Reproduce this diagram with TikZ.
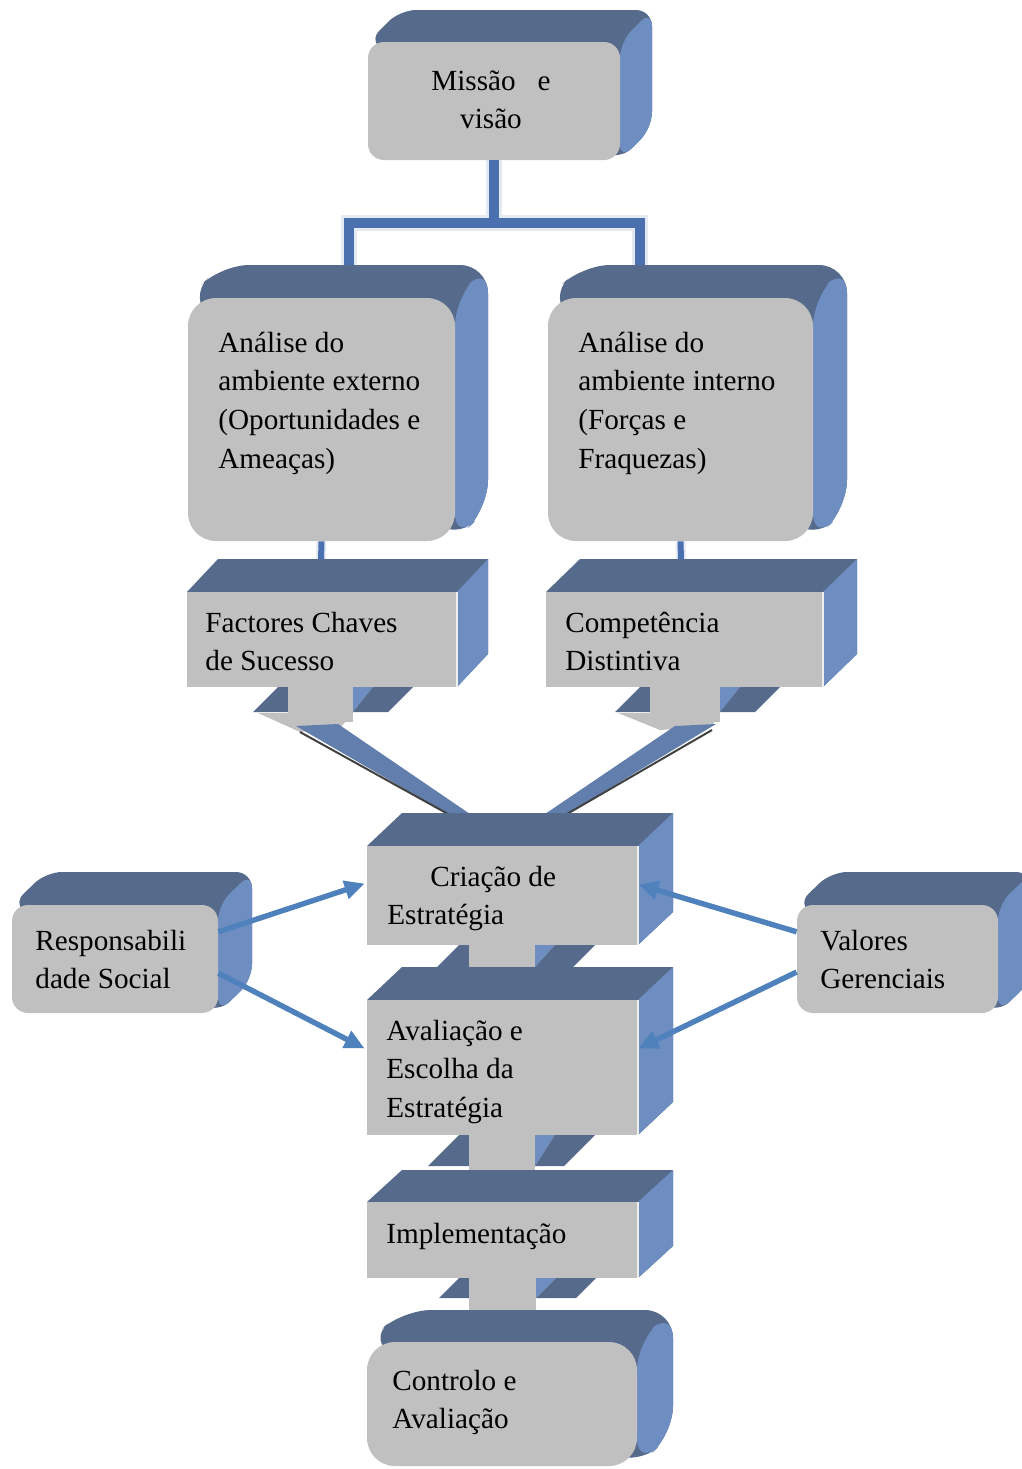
\documentclass[tikz,border=0pt]{standalone}
\usepackage{fontspec}
\setmainfont{Liberation Serif}
\usetikzlibrary{fit,calc,arrows.meta}
\definecolor{topc}{RGB}{86,106,140}
\definecolor{sidec}{RGB}{110,142,194}
\definecolor{bandc}{RGB}{98,126,172}
\definecolor{facec}{RGB}{192,192,192}
\definecolor{arrc}{RGB}{79,129,189}
\definecolor{connc}{RGB}{74,112,176}
\definecolor{connhl}{RGB}{228,234,243}
% #1 x1, #2 y1, #3 x2, #4 y2 (front face), #5 dx, #6 dy (depth), #7 radius, #8 name
\newcommand\slab[8]{%
  \fill[topc, rounded corners=#7] (#1,#2) -- ({#1+#5},{#2-#6}) -- ({#3+#5},{#2-#6}) -- ({#3+#5},{#4-#6}) -- (#3,#4) -- cycle;
  \fill[sidec, rounded corners=#7] (#3,#2) -- ({#3+#5},{#2-#6}) -- ({#3+#5},{#4-#6}) -- (#3,#4) -- cycle;
  \node[face, rounded corners=#7, fit={(#1,#2) (#3,#4)}] (#8) {};
}
% #1 stem left x, #2 stem right x, #3 top y, #4 bottom y, #5 wing height
\newcommand\stemdown[5]{%
  \fill[topc] (#1,#3) -- ({#1-10},#3) -- ({#1-10-#5},{#3+#5}) -- (#1,{#3+#5}) -- cycle;
  \fill[sidec] (#2,#3) -- ({#2+20},#3) -- (#2,{#3+#5}) -- cycle;
  \fill[topc] ({#2+20},#3) -- ({#2+60},#3) -- ({#2+60-#5},{#3+#5}) -- (#2,{#3+#5}) -- cycle;
  \fill[facec] (#1,#3) rectangle (#2,#4);
}
\begin{document}
\begin{tikzpicture}[x=0.5pt,y=-0.5pt,
  face/.style={fill=facec, draw=none, inner sep=0pt},
  lbl/.style={anchor=base west, inner sep=0pt, font=\fontsize{14.6}{19.4}\selectfont},
  conn/.style={draw=connc, line width=5pt},
  connout/.style={draw=connhl, line width=8pt},
  arr/.style={draw=arrc, line width=2.7pt, -{Triangle[length=10pt,width=9pt]}},
  hl/.style={draw=white!75!facec, line width=1pt}]
\useasboundingbox (0,0) rectangle (1022,1469);
\clip (0,0) rectangle (1022,1469);

% top level
\slab{368}{42}{620}{160}{32}{32}{8pt}{miss}
\slab{188}{298}{455}{541}{33}{33}{14pt}{ext}
\slab{548}{298}{813}{541}{34}{33}{14pt}{int}

\coordinate (extin) at (349,265);
\coordinate (intin) at (640,265);
\draw[connout] (miss.south) -- ++(0,63) -| (extin);
\draw[connout] (miss.south) -- ++(0,63) -| (intin);
\draw[conn] (miss.south) -- ++(0,63) -| (extin);
\draw[conn] (miss.south) -- ++(0,63) -| (intin);

\coordinate (fcsin) at (321,560);
\coordinate (compin) at (681,560);
\draw[connout, line width=5pt] (ext.south) -- (fcsin);
\draw[conn, line width=3pt] (ext.south) -- (fcsin);
\draw[connout, line width=5pt] (int.south) -- (compin);
\draw[conn, line width=3pt] (int.south) -- (compin);

\slab{187}{592}{457}{687}{31}{33}{0pt}{fcs}
\slab{546}{592}{823}{687}{34}{33}{0pt}{comp}
\draw[hl] (fcs.north east) -- (fcs.south east);
\draw[hl] (comp.north east) -- (comp.south east);

% arrows from fcs and comp down to cria
\stemdown{288}{353}{687}{722}{25}
\fill[facec] (258,713) -- (353,713) -- (340,728) -- (300,732) -- cycle;
\fill[bandc] (296,726) -- (338,724) -- (470,814) -- (448,814) -- cycle;
\draw[black!75, line width=1pt] (300,732) -- (448,814);
\stemdown{650}{720}{687}{722}{25}
\fill[facec] (618,713) -- (720,713) -- (712,726) -- (660,730) -- cycle;
\fill[bandc] (675,726) -- (716,724) -- (567,814) -- (545,814) -- cycle;
\draw[black!75, line width=1pt] (712,730) -- (567,814);

% central column
\slab{367}{846}{638}{945}{35}{33}{0pt}{cria}
\draw[hl] (cria.north east) -- (cria.south east);
\stemdown{469}{535}{945}{968}{22}
\slab{367}{1000}{638}{1135}{35}{33}{0pt}{aval}
\draw[hl] (aval.north east) -- (aval.south east);
\stemdown{469}{535}{1135}{1170}{31}
\slab{367}{1202}{638}{1278}{35}{32}{0pt}{impl}
\draw[hl] (impl.north east) -- (impl.south east);
\stemdown{469}{536}{1278}{1310}{20}
\slab{367}{1342}{637}{1466}{36}{32}{14pt}{ctrl}

% side boxes
\slab{12}{905}{218}{1013}{34}{33}{8pt}{resp}
\slab{797}{905}{998}{1013}{34}{33}{8pt}{val}

% labels
\node[lbl, anchor=base] (tmiss) at (491,90) {\parbox[t]{80pt}{\centering Missão\ \ \ e\\visão}};
\node[lbl] (text) at (218,352) {\parbox[t]{150pt}{\raggedright Análise do\\ambiente externo\\(Oportunidades e\\Ameaças)}};
\node[lbl] (tint) at (578,352) {\parbox[t]{150pt}{\raggedright Análise do\\ambiente interno\\(Forças e\\Fraquezas)}};
\node[lbl] (tfcs) at (205,632) {\parbox[t]{150pt}{\raggedright Factores Chaves\\de Sucesso}};
\node[lbl] (tcomp) at (565,632) {\parbox[t]{150pt}{\raggedright Competência\\Distintiva}};
\node[lbl] (tcria) at (387,886) {\parbox[t]{150pt}{\raggedright \hspace*{21.5pt}Criação de\\Estratégia}};
\node[lbl] (taval) at (386,1040) {\parbox[t]{150pt}{\raggedright Avaliação e\\Escolha da\\Estratégia}};
\node[lbl] (timpl) at (386,1243) {Implementação};
\node[lbl] (tctrl) at (392,1390) {\parbox[t]{150pt}{\raggedright Controlo e\\Avaliação}};
\node[lbl] (tresp) at (35,950) {\parbox[t]{150pt}{\raggedright Responsabili\\dade Social}};
\node[lbl] (tval) at (820,950) {\parbox[t]{150pt}{\raggedright Valores\\Gerenciais}};

% blue arrows
\draw[arr] ($(resp.north east)!0.25!(resp.south east)$) -- ($(cria.north west)!0.38!(cria.south west)+(-2,0)$);
\draw[arr] ($(resp.north east)!0.63!(resp.south east)$) -- ($(aval.north west)!0.36!(aval.south west)+(-2,0)$);
\draw[arr] ($(val.north west)!0.25!(val.south west)$) -- ($(cria.north east)!0.39!(cria.south east)$);
\draw[arr] ($(val.north west)!0.62!(val.south west)$) -- ($(aval.north east)!0.36!(aval.south east)$);
\end{tikzpicture}
\end{document}
